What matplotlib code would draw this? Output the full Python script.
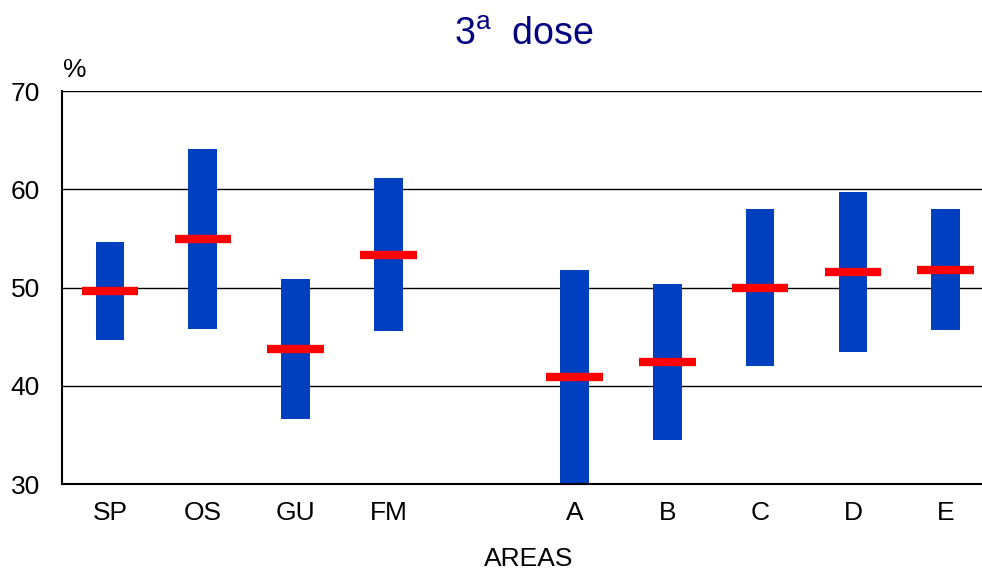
import matplotlib
matplotlib.use("Agg")
import matplotlib.pyplot as plt
import numpy as np

plt.rcParams['font.family'] = ['Liberation Sans', 'DejaVu Sans']
plt.rcParams['mathtext.fontset'] = 'custom'
plt.rcParams['mathtext.rm'] = 'Liberation Sans'

categories = ["SP", "OS", "GU", "FM", "A", "B", "C", "D", "E"]
positions = [0, 1, 2, 3, 5, 6, 7, 8, 9]
low = [44.7, 45.8, 36.6, 45.6, 30.0, 34.5, 42.0, 43.4, 45.7]
high = [54.6, 64.1, 50.9, 61.1, 51.8, 50.4, 58.0, 59.7, 58.0]
point = [49.6, 54.9, 43.7, 53.3, 40.9, 42.4, 50.0, 51.6, 51.8]
yticks = [30, 40, 50, 60, 70]

fig = plt.figure(figsize=(9.82, 5.72), dpi=100)
ax = fig.add_axes([0.0631, 0.1538, 0.9369, 0.6871])

ax.set_ylim(30, 70)
ax.set_xlim(-0.517, 9.39)
for y in yticks[1:]:
    ax.axhline(y, color='black', lw=1.0, zorder=1)

heights = [h - l for h, l in zip(high, low)]
ax.bar(positions, heights, bottom=low, width=0.31, color='#0040C0', zorder=2)
ax.hlines(point, [p - 0.305 for p in positions], [p + 0.305 for p in positions],
          color='#FF0000', lw=6, zorder=3)

ax.set_xticks(positions)
ax.set_xticklabels(categories, fontsize=19)
ax.set_yticks(yticks)
ax.set_yticklabels([str(v) for v in yticks], fontsize=19)
ax.tick_params(axis='both', length=0)
ax.tick_params(axis='y', pad=16)
ax.tick_params(axis='x', pad=12)

for s in ['top', 'right']:
    ax.spines[s].set_visible(False)
ax.spines['left'].set_linewidth(1.5)
ax.spines['bottom'].set_linewidth(1.5)

fig.text(529 / 982, 1 - 566 / 572, "AREAS", fontsize=19, ha='center', va='baseline')
fig.text(0.064, 1 - 77 / 572, "%", fontsize=19, ha='left', va='baseline')
fig.text(0.533, 1 - 45 / 572, r"3$^{\mathrm{a}}$  dose", fontsize=27,
         color='#000080', ha='center', va='baseline')

fig.savefig("out.png", dpi=100)
